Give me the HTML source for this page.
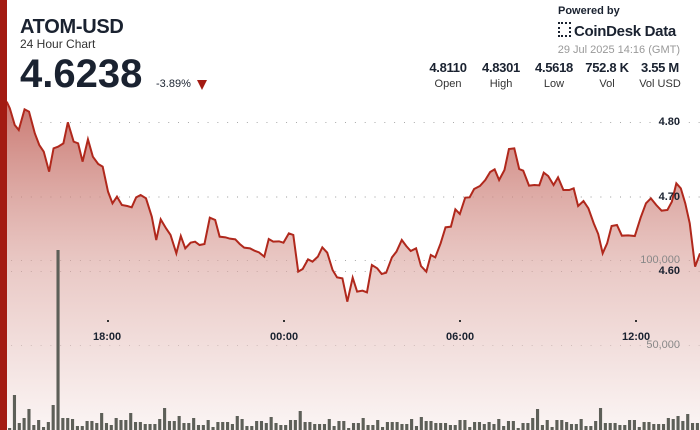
<!DOCTYPE html>
<html><head><meta charset="utf-8"><style>
body{margin:0;width:700px;height:430px;overflow:hidden;background:#fff;font-family:"Liberation Sans",sans-serif;position:relative;color:#1a2230}
.a{position:absolute;white-space:nowrap}
.st{position:absolute;top:60px;width:60px;text-align:center;transform:translateX(-50%)}
.st b{display:block;font-size:13px;color:#1a2230;letter-spacing:-0.3px}
.st span{display:block;font-size:11px;color:#333;margin-top:3px}
</style></head><body>
<svg class="a" style="left:0;top:90px" width="700" height="340" viewBox="0 0 1568 1020" preserveAspectRatio="none">
<defs><linearGradient id="g" x1="0" y1="0" x2="0" y2="1">
<stop offset="0" stop-color="#c46a62" stop-opacity="0.9"/>
<stop offset="0.5" stop-color="#dba59f" stop-opacity="0.6"/>
<stop offset="1" stop-color="#f8eeed" stop-opacity="0.6"/></linearGradient></defs>
<g stroke="#666" stroke-width="2" stroke-dasharray="2 20" vector-effect="non-scaling-stroke">
<line x1="25" y1="97" x2="1568" y2="97"/><line x1="25" y1="321" x2="1568" y2="321"/><line x1="25" y1="545" x2="1568" y2="545"/><line x1="25" y1="511" x2="1568" y2="511"/><line x1="25" y1="766" x2="1568" y2="766"/></g>
<path fill="url(#g)" d="M15,35 L22,55 33,105 42,120 55,58 65,65 78,130 88,165 98,185 110,245 120,175 130,170 142,160 152,97 165,155 175,160 185,215 197,148 208,200 220,222 230,230 242,305 252,340 262,320 273,345 285,348 295,352 305,322 315,315 327,325 340,380 350,450 360,388 372,415 382,435 395,490 405,438 415,475 427,458 437,455 447,465 458,462 470,383 482,390 492,440 505,442 515,446 527,448 537,462 547,473 560,475 570,482 580,487 592,500 602,447 612,455 625,454 635,458 647,430 657,435 668,545 678,537 690,508 700,515 712,500 722,472 733,488 745,540 755,562 767,565 778,635 790,563 800,605 812,602 822,607 833,525 845,535 855,552 865,548 878,502 888,485 900,450 910,468 920,483 932,475 943,528 955,545 965,495 975,502 987,460 998,412 1010,410 1020,358 1030,372 1042,323 1052,322 1062,297 1075,288 1087,270 1098,246 1108,238 1118,270 1130,240 1140,177 1152,175 1163,237 1172,242 1185,287 1197,285 1208,286 1218,248 1228,258 1240,285 1250,262 1262,300 1275,300 1285,295 1295,348 1307,333 1318,355 1330,400 1340,432 1350,490 1360,460 1370,408 1382,405 1393,437 1407,436 1422,438 1435,383 1447,340 1458,325 1470,345 1482,362 1495,360 1505,335 1515,280 1525,295 1535,340 1545,400 1557,530 1568,490 L1568,1020 L15,1020Z"/>
<path fill="none" stroke="#b0281c" stroke-width="2" vector-effect="non-scaling-stroke" d="M15,35 L22,55 33,105 42,120 55,58 65,65 78,130 88,165 98,185 110,245 120,175 130,170 142,160 152,97 165,155 175,160 185,215 197,148 208,200 220,222 230,230 242,305 252,340 262,320 273,345 285,348 295,352 305,322 315,315 327,325 340,380 350,450 360,388 372,415 382,435 395,490 405,438 415,475 427,458 437,455 447,465 458,462 470,383 482,390 492,440 505,442 515,446 527,448 537,462 547,473 560,475 570,482 580,487 592,500 602,447 612,455 625,454 635,458 647,430 657,435 668,545 678,537 690,508 700,515 712,500 722,472 733,488 745,540 755,562 767,565 778,635 790,563 800,605 812,602 822,607 833,525 845,535 855,552 865,548 878,502 888,485 900,450 910,468 920,483 932,475 943,528 955,545 965,495 975,502 987,460 998,412 1010,410 1020,358 1030,372 1042,323 1052,322 1062,297 1075,288 1087,270 1098,246 1108,238 1118,270 1130,240 1140,177 1152,175 1163,237 1172,242 1185,287 1197,285 1208,286 1218,248 1228,258 1240,285 1250,262 1262,300 1275,300 1285,295 1295,348 1307,333 1318,355 1330,400 1340,432 1350,490 1360,460 1370,408 1382,405 1393,437 1407,436 1422,438 1435,383 1447,340 1458,325 1470,345 1482,362 1495,360 1505,335 1515,280 1525,295 1535,340 1545,400 1557,530 1568,490"/>
<g id="bars" fill="#5d5f58"></g>
</svg>
<div class="a" style="left:0;top:0;width:7px;height:430px;background:#a31b12"></div>
<div class="a" style="left:20px;top:16px;font-size:20px;font-weight:bold;letter-spacing:-0.3px">ATOM-USD</div>
<div class="a" style="left:20px;top:37px;font-size:12px;color:#333">24 Hour Chart</div>
<div class="a" style="left:20px;top:52px;font-size:40px;font-weight:bold">4.6238</div>
<div class="a" style="left:156px;top:78px;font-size:11px">-3.89%</div>
<div class="a" style="left:197px;top:80px;width:0;height:0;border-left:5px solid transparent;border-right:5px solid transparent;border-top:10px solid #a31b12"></div>
<div class="a" style="left:558px;top:5px;font-size:11px;font-weight:bold">Powered by</div>
<div class="a" style="left:558px;top:22px;font-size:15px;font-weight:bold;letter-spacing:-0.3px"><span style="display:inline-block;width:9px;height:11px;border:2px solid #1a2230;border-style:dotted;margin-right:3px;vertical-align:-1px"></span>CoinDesk Data</div>
<div class="a" style="right:20px;top:44px;font-size:11px;color:#999">29 Jul 2025 14:16 (GMT)</div>
<div class="st" style="left:448px"><b>4.8110</b><span>Open</span></div>
<div class="st" style="left:501px"><b>4.8301</b><span>High</span></div>
<div class="st" style="left:554px"><b>4.5618</b><span>Low</span></div>
<div class="st" style="left:607px"><b>752.8 K</b><span>Vol</span></div>
<div class="st" style="left:660px"><b>3.55 M</b><span>Vol USD</span></div>
<div class="a" style="right:20px;top:116px;font-size:11px;font-weight:bold">4.80</div>
<div class="a" style="right:20px;top:191px;font-size:11px;font-weight:bold">4.70</div>
<div class="a" style="right:20px;top:265px;font-size:11px;font-weight:bold">4.60</div>
<div class="a" style="right:20px;top:254px;font-size:11px;color:#888">100,000</div>
<div class="a" style="right:20px;top:339px;font-size:11px;color:#888">50,000</div>
<div class="a" style="left:93px;top:331px;font-size:11px;font-weight:bold">18:00</div>
<div class="a" style="left:270px;top:331px;font-size:11px;font-weight:bold">00:00</div>
<div class="a" style="left:446px;top:331px;font-size:11px;font-weight:bold">06:00</div>
<div class="a" style="left:622px;top:331px;font-size:11px;font-weight:bold">12:00</div>
<div class="a" style="left:107px;top:320px;width:2px;height:2px;background:#333"></div>
<div class="a" style="left:283px;top:320px;width:2px;height:2px;background:#333"></div>
<div class="a" style="left:459px;top:320px;width:2px;height:2px;background:#333"></div>
<div class="a" style="left:635px;top:320px;width:2px;height:2px;background:#333"></div>
<script>
var big={1:35,3:12,4:21,9:25,10:180,11:12,12:12,19:17,22:12,25:17,32:22,35:14,60:19,85:13,109:21,122:22,140:16,47:14,54:13,99:8,113:10,114:10,136:12,137:11,138:14};
var g=document.getElementById('bars'),s='';
for(var i=0;i<143;i++){var h=big[i]||(2+((i*37)%7)+((i*13)%5));var x=18+i*10.85;
s+='<rect x="'+x.toFixed(1)+'" y="'+(1020-h*3)+'" width="7" height="'+h*3+'"/>';}
g.innerHTML=s;
</script>
</body></html>
